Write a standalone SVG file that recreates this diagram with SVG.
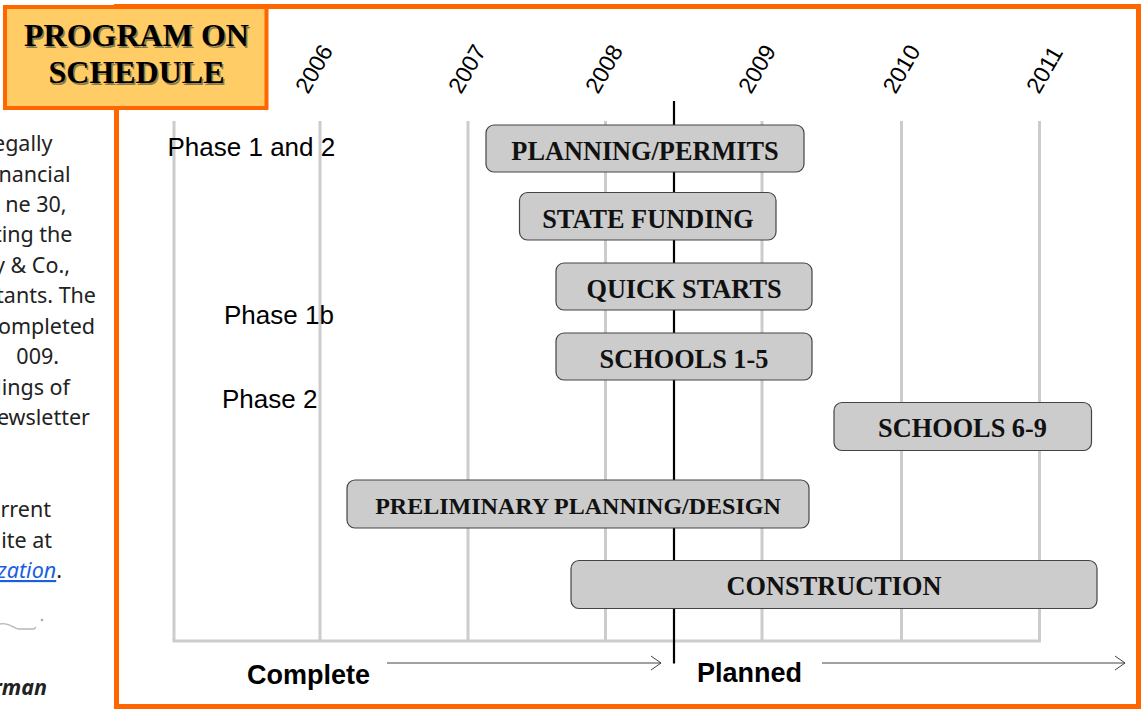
<svg xmlns="http://www.w3.org/2000/svg" width="1141" height="709" viewBox="0 0 1141 709">
<style>
.side{font-family:"Noto Sans","Liberation Sans",sans-serif;font-size:21.5px;fill:#222;text-anchor:end}
.ttl{font-family:"Liberation Serif","Times New Roman",serif;font-weight:bold;font-size:32px;text-anchor:middle}
.yr{font-family:"Liberation Sans",Arial,sans-serif;font-size:23px;fill:#000}
.ph{font-family:"Liberation Sans",Arial,sans-serif;font-size:26px;fill:#000}
.grid{stroke:#cccccc;stroke-width:3;fill:none}
.bar{fill:#cccccc;stroke:#444;stroke-width:1.2}
.bt{font-family:"Liberation Serif","Times New Roman",serif;font-weight:bold;font-size:26.3px;fill:#111;text-anchor:middle}
.lbl{font-family:"Liberation Sans",Arial,sans-serif;font-weight:bold;font-size:27px;fill:#000}
.arr{stroke:#444;stroke-width:1;fill:none}
</style>
<defs>
<marker id="chev" markerUnits="userSpaceOnUse" markerWidth="12" markerHeight="16" refX="10" refY="7" orient="auto" viewBox="-1 -1 12 16">
<path d="M0,0 L10,7 L0,14" fill="none" stroke="#444" stroke-width="1"/>
</marker>
</defs>
<rect x="0" y="0" width="1141" height="709" fill="#ffffff"/>

<g id="side-text">
<text class="side" x="52.5" y="151">egally</text>
<text class="side" x="70.5" y="181.5">nancial</text>
<text class="side" x="66.5" y="212">ne 30,</text>
<text class="side" x="72.5" y="242">ting the</text>
<text class="side" x="70" y="272.5">y &amp; Co.,</text>
<text class="side" x="96" y="303">tants. The</text>
<text class="side" x="95" y="333.5">ompleted</text>
<text class="side" x="59" y="364">009.</text>
<text class="side" x="70" y="394.5">lings of</text>
<text class="side" x="90" y="425">ewsletter</text>
<text class="side" x="51" y="516.5">rrent</text>
<text class="side" x="52" y="547.5">ite at</text>
<text class="side" x="62" y="578"><tspan fill="#1a5fe0" font-style="italic" text-decoration="underline">zation</tspan>.</text>
<path d="M0,624 C8,622 12,627 18,629 L34,629 L36,627" fill="none" stroke="#999" stroke-width="1.3" opacity="0.7"/>
<circle cx="42" cy="620" r="1.3" fill="#aaa"/>
<text class="side" x="47" y="695" font-weight="bold" font-style="italic" fill="#000">rman</text>
</g>

<g id="frame">
<rect x="116.5" y="6.5" width="1022" height="700" fill="#ffffff" stroke="#ff6600" stroke-width="5"/>
</g>

<g id="grid">
<line class="grid" x1="174" y1="121" x2="174" y2="641"/>
<line class="grid" x1="320" y1="121" x2="320" y2="641"/>
<line class="grid" x1="468" y1="121" x2="468" y2="641"/>
<line class="grid" x1="605.5" y1="121" x2="605.5" y2="641"/>
<line class="grid" x1="762" y1="121" x2="762" y2="641"/>
<line class="grid" x1="901.5" y1="121" x2="901.5" y2="641"/>
<line class="grid" x1="1039.5" y1="121" x2="1039.5" y2="641"/>
<line class="grid" x1="172.5" y1="641" x2="1041" y2="641"/>
<line x1="674" y1="101" x2="674" y2="663.5" stroke="#000" stroke-width="2.2"/>
</g>

<g id="years">
<text class="yr" transform="translate(308,95) rotate(-60)">2006</text>
<text class="yr" transform="translate(461,95) rotate(-60)">2007</text>
<text class="yr" transform="translate(598,95) rotate(-60)">2008</text>
<text class="yr" transform="translate(751,95) rotate(-60)">2009</text>
<text class="yr" transform="translate(895.5,95) rotate(-60)">2010</text>
<text class="yr" transform="translate(1039,95) rotate(-60)">2011</text>
</g>

<g id="phases">
<text class="ph" x="167.5" y="155.5">Phase 1 and 2</text>
<text class="ph" x="224" y="323.5">Phase 1b</text>
<text class="ph" x="222" y="407.5">Phase 2</text>
</g>

<g id="bar-planning-permits">
<rect class="bar" x="486" y="125" width="318" height="47" rx="8"/>
<text class="bt" x="645" y="160">PLANNING/PERMITS</text>
</g>
<g id="bar-state-funding">
<rect class="bar" x="519.5" y="192.5" width="256.5" height="47.5" rx="8"/>
<text class="bt" x="648" y="227.5">STATE FUNDING</text>
</g>
<g id="bar-quick-starts">
<rect class="bar" x="556" y="263" width="256" height="47" rx="8"/>
<text class="bt" x="684" y="298">QUICK STARTS</text>
</g>
<g id="bar-schools-1-5">
<rect class="bar" x="556" y="333" width="256" height="47" rx="8"/>
<text class="bt" x="684" y="368">SCHOOLS 1-5</text>
</g>
<g id="bar-schools-6-9">
<rect class="bar" x="834" y="402.5" width="257.5" height="48" rx="8"/>
<text class="bt" x="962.5" y="437">SCHOOLS 6-9</text>
</g>
<g id="bar-preliminary">
<rect class="bar" x="347" y="480" width="462" height="48" rx="8"/>
<text class="bt" x="578" y="513.5" style="font-size:24px">PRELIMINARY PLANNING/DESIGN</text>
</g>
<g id="bar-construction">
<rect class="bar" x="571" y="560.5" width="526" height="48" rx="8"/>
<text class="bt" x="834" y="594.5">CONSTRUCTION</text>
</g>

<g id="labels">
<text class="lbl" x="247" y="684">Complete</text>
<text class="lbl" x="697" y="682">Planned</text>
</g>

<g id="connectors">
<line class="arr" x1="387" y1="663" x2="661" y2="663" marker-end="url(#chev)"/>
<line class="arr" x1="822" y1="663" x2="1125" y2="663" marker-end="url(#chev)"/>
</g>

<g id="title">
<rect x="5" y="7" width="261.5" height="101" fill="#ffcc66" stroke="#ff6600" stroke-width="4"/>
<text class="ttl" x="138" y="47.5" fill="#8b7b4b">PROGRAM ON</text>
<text class="ttl" x="138" y="84.5" fill="#8b7b4b">SCHEDULE</text>
<text class="ttl" x="136.5" y="46" fill="#000">PROGRAM ON</text>
<text class="ttl" x="136.5" y="83" fill="#000">SCHEDULE</text>
</g>
</svg>
